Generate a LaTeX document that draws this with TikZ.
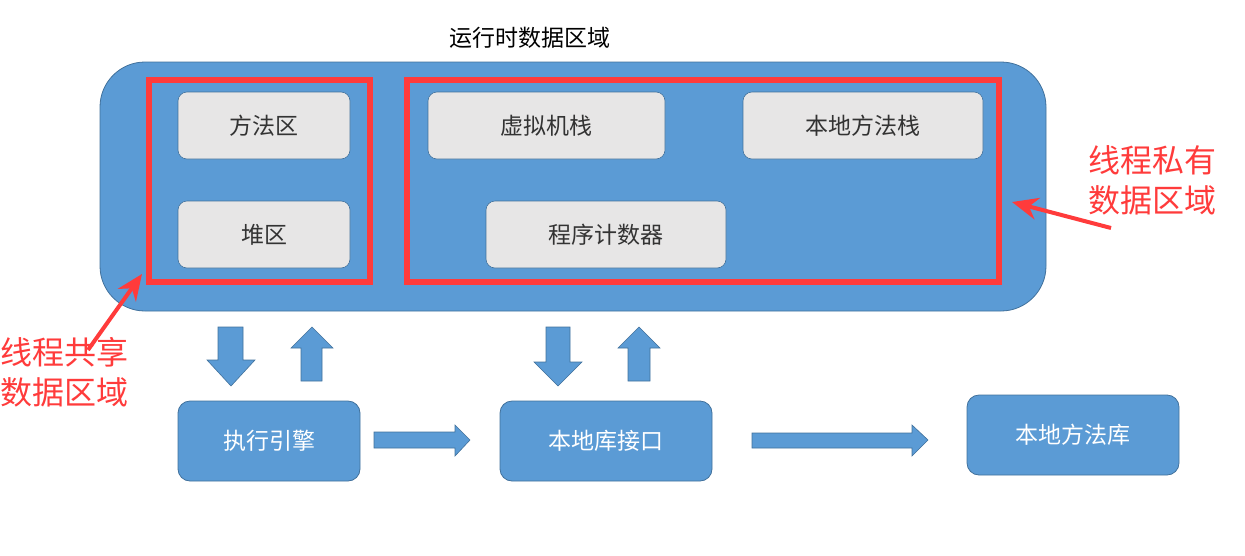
\documentclass[tikz,border=0pt]{standalone}
\usepackage{fontspec}
\setmainfont{Noto Sans CJK SC}
\usetikzlibrary{arrows.meta}
\definecolor{bfill}{HTML}{5B9BD5}
\definecolor{bline}{HTML}{41719C}
\definecolor{gfill}{HTML}{E7E6E6}
\definecolor{rline}{HTML}{FF3B3B}
\definecolor{tdark}{HTML}{333333}
\tikzset{
  graybox/.style={draw=bline, line width=0.6pt, fill=gfill, rounded corners=9pt, text=tdark, font=\fontsize{23}{27}\selectfont},
  bluebox/.style={draw=bline, line width=0.8pt, fill=bfill, rounded corners=12pt, text=white, font=\fontsize{23}{27}\selectfont},
  redframe/.style={draw=rline, line width=6pt},
  blockarrow/.style={draw=bline, line width=0.6pt, fill=bfill},
  redtext/.style={text=rline, font=\fontsize{32}{40}\selectfont, align=left, inner sep=0pt},
  redarrow/.style={draw=rline, line width=4pt, -{Stealth[length=26pt,width=22pt]}}
}
\begin{document}
\begin{tikzpicture}[x=1pt,y=-1pt]
\useasboundingbox (0,0) rectangle (1245,555);
% title
\node[text=black, font=\fontsize{23}{27}\selectfont] (title) at (530,38) {运行时数据区域};
% big container
\draw[draw=bline, line width=0.8pt, fill=bfill, rounded corners=45pt] (100,62) rectangle (1046,311);
\node[inner sep=0pt, minimum width=946pt, minimum height=249pt] (runtime) at (573,186.5) {};
% red frames
\draw[redframe] (149,80) rectangle (370,282);
\node[inner sep=0pt, minimum width=221pt, minimum height=202pt] (shared) at (259.5,181) {};
\draw[redframe] (407,80) rectangle (999,282);
\node[inner sep=0pt, minimum width=592pt, minimum height=202pt] (private) at (703,181) {};
% gray boxes
\node[graybox, minimum width=172pt, minimum height=67pt] (method) at (264,125.5) {方法区};
\node[graybox, minimum width=172pt, minimum height=67pt] (heap) at (264,234.5) {堆区};
\node[graybox, minimum width=237pt, minimum height=67pt] (vmstack) at (546.5,125.5) {虚拟机栈};
\node[graybox, minimum width=240pt, minimum height=67pt] (nstack) at (863,125.5) {本地方法栈};
\node[graybox, minimum width=240pt, minimum height=67pt] (pc) at (606,234.5) {程序计数器};
% bottom boxes
\node[bluebox, minimum width=182pt, minimum height=80pt] (engine) at (269,441) {执行引擎};
\node[bluebox, minimum width=212pt, minimum height=80pt] (nif) at (606,441) {本地库接口};
\node[bluebox, minimum width=212pt, minimum height=80pt] (nlib) at (1073,435) {本地方法库};
% block arrows (vertical)
\draw[blockarrow] (218,327) -- (243,327) -- (243,360) -- (255,360) -- (231,386) -- (207,360) -- (218,360) -- cycle;
\draw[blockarrow] (301,381) -- (301,348) -- (291,348) -- (312,327) -- (333,348) -- (322,348) -- (322,381) -- cycle;
\draw[blockarrow] (546,327) -- (570,327) -- (570,362) -- (582,362) -- (558,386) -- (534,362) -- (546,362) -- cycle;
\draw[blockarrow] (628,381) -- (628,348) -- (618,348) -- (639,327) -- (660,348) -- (650,348) -- (650,381) -- cycle;
% block arrows (horizontal)
\draw[blockarrow] (374,432) -- (455,432) -- (455,425) -- (470,440) -- (455,456) -- (455,448) -- (374,448) -- cycle;
\draw[blockarrow] (752,433) -- (912,433) -- (912,425) -- (928,440) -- (912,456) -- (912,448) -- (752,448) -- cycle;
% annotations
\node[redtext, anchor=west] (sharedlbl) at (0,372) {线程共享\\数据区域};
\node[redtext, anchor=west] (privatelbl) at (1088,180) {线程私有\\数据区域};
\coordinate (sharedtail) at (88,350);
\coordinate (sharedtip) at (142,274);
\coordinate (privatetail) at (1111,228);
\coordinate (privatetip) at (1012,202);
\draw[redarrow] (sharedtail) -- (sharedtip);
\draw[redarrow] (privatetail) -- (privatetip);
\end{tikzpicture}
\end{document}
